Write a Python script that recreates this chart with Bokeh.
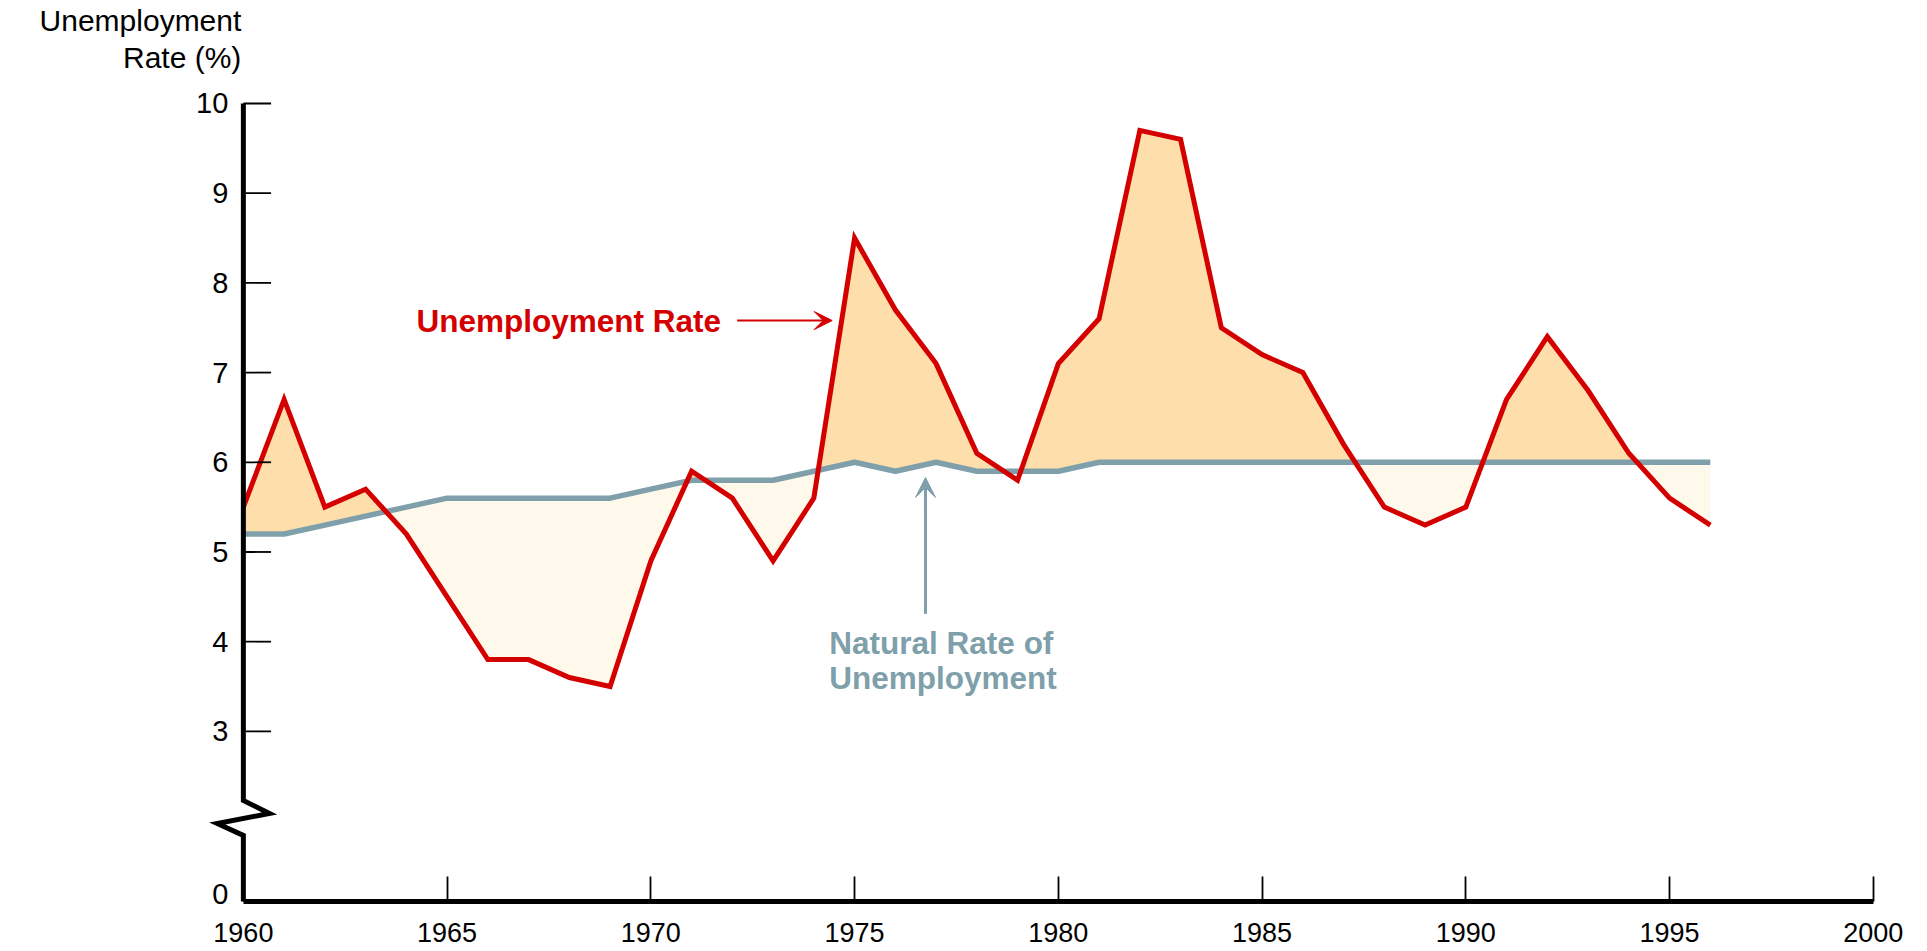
from bokeh.plotting import figure
from bokeh.models import Range1d, FixedTicker, CustomJSTickFormatter, Arrow, VeeHead
from bokeh.core.properties import value
from bokeh.embed import file_html
from bokeh.resources import INLINE

# ---------------- data ----------------
years = list(range(1960, 1997))
unemployment = [5.5, 6.7, 5.5, 5.7, 5.2, 4.5, 3.8, 3.8, 3.6, 3.5,
                4.9, 5.9, 5.6, 4.9, 5.6, 8.5, 7.7, 7.1, 6.1, 5.8,
                7.1, 7.6, 9.7, 9.6, 7.5, 7.2, 7.0, 6.2, 5.5, 5.3,
                5.5, 6.7, 7.4, 6.8, 6.1, 5.6, 5.3]
natural = [5.2, 5.2, 5.3, 5.4, 5.5, 5.6, 5.6, 5.6, 5.6, 5.6,
           5.7, 5.8, 5.8, 5.8, 5.9, 6.0, 5.9, 6.0, 5.9, 5.9,
           5.9, 6.0, 6.0, 6.0, 6.0, 6.0, 6.0, 6.0, 6.0, 6.0,
           6.0, 6.0, 6.0, 6.0, 6.0, 6.0, 6.0]
x_ticks = [1960, 1965, 1970, 1975, 1980, 1985, 1990, 1995, 2000]
y_ticks = [3, 4, 5, 6, 7, 8, 9, 10]

# ---------------- layout constants ----------------
FONT = "Liberation Sans"
RED = "#d40000"
GREY = "#7f9faa"
ORANGE = "#fedfab"
CREAM = "#fff9ec"

X_START, X_END = 1954.04, 2001.33
ZERO_POS = 1.104          # axis position used for the value 0 (broken axis)
ZERO_LABEL_POS = 1.19     # the "0" label sits slightly above the baseline
Y_START, Y_END = 0.546, 11.148
BREAK_TOP, BREAK_MID1, BREAK_MID2, BREAK_BOT = 2.23, 2.085, 1.973, 1.84
ZIG = 0.64
TICK_LEN = 0.68           # y tick length, in years

# ---------------- derive fill polygons ----------------
xs, nat_d, une_d = [], [], []
for i in range(len(years)):
    xs.append(years[i]); nat_d.append(natural[i]); une_d.append(unemployment[i])
    if i < len(years) - 1:
        d0 = unemployment[i] - natural[i]
        d1 = unemployment[i + 1] - natural[i + 1]
        if d0 * d1 < 0:
            t = d0 / (d0 - d1)
            yc = natural[i] + t * (natural[i + 1] - natural[i])
            xs.append(years[i] + t); nat_d.append(yc); une_d.append(yc)
upper = [max(a, b) for a, b in zip(une_d, nat_d)]
lower = [min(a, b) for a, b in zip(une_d, nat_d)]

p = figure(frame_width=1927, frame_height=951,
           x_range=Range1d(X_START, X_END), y_range=Range1d(Y_START, Y_END),
           output_backend="svg", toolbar_location=None,
           min_border_left=0, min_border_right=0, min_border_top=0,
           min_border_bottom=0)
p.outline_line_color = None
p.xgrid.visible = False
p.ygrid.visible = False
p.background_fill_color = "white"
p.border_fill_color = "white"

p.varea(x=xs, y1=nat_d, y2=upper, fill_color=ORANGE)
p.varea(x=xs, y1=lower, y2=nat_d, fill_color=CREAM)
p.line(years, natural, line_color=GREY, line_width=5.5)
p.line(years, unemployment, line_color=RED, line_width=5, line_join="miter")

# broken y axis line
axis_x = x_ticks[0]
p.line([axis_x, axis_x, axis_x + ZIG, axis_x - ZIG, axis_x, axis_x],
       [y_ticks[-1], BREAK_TOP, BREAK_MID1, BREAK_MID2, BREAK_BOT, ZERO_POS],
       line_color="black", line_width=5, line_join="miter")
# y tick marks (pointing inward)
p.segment(x0=[axis_x] * len(y_ticks), y0=y_ticks,
          x1=[axis_x + TICK_LEN] * len(y_ticks), y1=y_ticks,
          line_color="black", line_width=1.8)

# x axis
xa = p.xaxis[0]
xa.fixed_location = ZERO_POS
xa.ticker = FixedTicker(ticks=x_ticks)
xa.bounds = (x_ticks[0], x_ticks[-1])
xa.axis_line_width = 5
xa.axis_line_color = "black"
xa.major_tick_in = 25
xa.major_tick_out = 0
xa.major_tick_line_width = 1.8
xa.minor_tick_line_color = None
xa.major_label_standoff = 22
xa.major_label_text_font = FONT
xa.major_label_text_font_size = "27px"
xa.major_label_text_color = "black"

# y axis (labels only; line and ticks drawn above)
ya = p.yaxis[0]
ya.fixed_location = axis_x
ya.ticker = FixedTicker(ticks=[ZERO_LABEL_POS] + y_ticks)
ya.formatter = CustomJSTickFormatter(code="return tick < 2.5 ? '0' : tick.toFixed(0)")
ya.axis_line_color = None
ya.major_tick_line_color = None
ya.major_tick_in = 0
ya.major_tick_out = 0
ya.minor_tick_line_color = None
ya.major_label_standoff = 15
ya.major_label_text_font = FONT
ya.major_label_text_font_size = "29px"
ya.major_label_text_color = "black"

# axis title
p.text(x=[1959.95, 1959.95], y=[10.925, 10.513], text=["Unemployment", "Rate (%)"],
       text_align="right", text_baseline="middle", text_font=value(FONT),
       text_font_size="30px", text_color="black")

# annotations
p.text(x=[1964.25], y=[7.58], text=["Unemployment Rate"], text_align="left",
       text_baseline="middle", text_font=value(FONT), text_font_style="bold",
       text_font_size="31.5px", text_color=RED)
p.add_layout(Arrow(end=VeeHead(size=18, fill_color=RED, line_color=RED),
                   x_start=1972.12, y_start=7.58, x_end=1974.45, y_end=7.58,
                   line_color=RED, line_width=2))

p.text(x=[1974.38, 1974.38], y=[3.98, 3.59], text=["Natural Rate of", "Unemployment"],
       text_align="left", text_baseline="middle", text_font=value(FONT),
       text_font_style="bold", text_font_size="31.5px", text_color=GREY)
p.add_layout(Arrow(end=VeeHead(size=20, fill_color=GREY, line_color=GREY),
                   x_start=1976.74, y_start=4.31, x_end=1976.74, y_end=5.83,
                   line_color=GREY, line_width=3))

open("out.html", "w").write(file_html(p, INLINE))
